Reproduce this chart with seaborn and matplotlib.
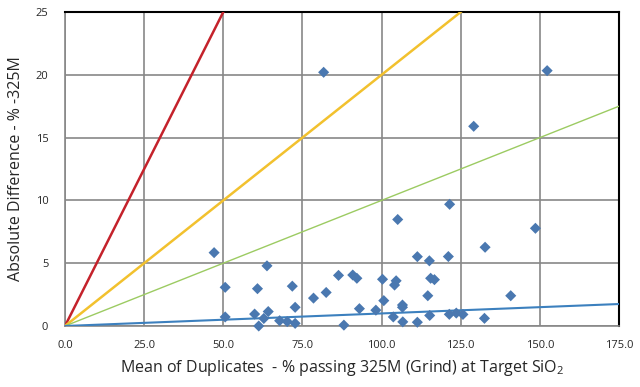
import matplotlib
matplotlib.use("Agg")
import matplotlib.pyplot as plt
import seaborn as sns
import pandas as pd
import numpy as np

mean_dup = [47.1, 50.6, 50.6, 60.8, 63.8, 59.9, 61.2, 62.8, 64.2, 67.8,
            70.2, 72.7, 71.8, 72.7, 78.5, 82.5, 86.4, 88.1, 81.7, 90.9,
            92.2, 100.3, 104.6, 104.1, 115.5, 116.7, 114.6, 100.7, 93.0, 98.2,
            106.6, 106.6, 103.7, 106.7, 111.3, 115.2, 121.4, 123.6, 125.7, 132.5,
            105.1, 111.3, 115.1, 121.1, 121.5, 132.7, 148.6, 140.8, 129.1, 152.3]
abs_diff = [5.84, 3.08, 0.72, 2.97, 4.79, 0.95, 0.0, 0.6, 1.15, 0.42,
            0.35, 0.21, 3.17, 1.49, 2.22, 2.67, 4.03, 0.07, 20.2, 4.06,
            3.8, 3.72, 3.6, 3.26, 3.8, 3.69, 2.41, 2.02, 1.38, 1.26,
            1.67, 1.49, 0.72, 0.33, 0.3, 0.84, 0.93, 1.03, 0.92, 0.61,
            8.48, 5.52, 5.19, 5.53, 9.69, 6.27, 7.78, 2.41, 15.9, 20.33]

# reference lines: relative difference limits
ref_slopes = [0.5, 0.2, 0.1, 0.01]
ref_colors = ["#C4222B", "#F2C12E", "#9CCB62", "#3C80BE"]
ref_widths = [1.8, 1.8, 1.0, 1.5]
ref_x = [0, 175]

x_ticks = [0, 25, 50, 75, 100, 125, 150, 175]
y_ticks = [0, 5, 10, 15, 20, 25]

sns.set_theme(style="white")
plt.rcParams['font.family'] = ['Open Sans', 'DejaVu Sans']
plt.rcParams['mathtext.fontset'] = 'custom'
plt.rcParams['mathtext.rm'] = 'Open Sans'

fig = plt.figure(figsize=(6.4, 3.87), dpi=100)
ax = fig.add_axes([65/640, 1-326/387, (619-65)/640, (326-12)/387])

for s, c, w in zip(ref_slopes, ref_colors, ref_widths):
    d = pd.DataFrame({"x": ref_x, "y": [s * v for v in ref_x]})
    sns.lineplot(data=d, x="x", y="y", color=c, linewidth=w, ax=ax, zorder=3)

pts = pd.DataFrame({"x": mean_dup, "y": abs_diff})
sns.scatterplot(data=pts, x="x", y="y", marker="D", s=32, color="#4A78B0",
                edgecolor="none", ax=ax, zorder=4, clip_on=False)

ax.set_xlim(0, 175)
ax.set_ylim(0, 25)
ax.set_xticks(x_ticks)
ax.set_yticks(y_ticks)
ax.set_xticklabels([f"{v:.1f}" for v in x_ticks], fontsize=8)
ax.set_yticklabels([str(v) for v in y_ticks], fontsize=8)
ax.tick_params(axis="x", length=0, pad=10)
ax.tick_params(axis="y", length=0, pad=12)
ax.grid(True, color="#878787", linewidth=1.2)
ax.set_axisbelow(True)
for side in ["top", "right"]:
    ax.spines[side].set_color("black")
    ax.spines[side].set_linewidth(1.5)
for side in ["left", "bottom"]:
    ax.spines[side].set_color("#878787")
    ax.spines[side].set_linewidth(1.2)

ax.set_xlabel(r"Mean of Duplicates  - % passing 325M (Grind) at Target SiO$_\mathregular{2}$",
              fontsize=11.5, labelpad=5)
ax.set_ylabel("Absolute Difference - % -325M", fontsize=11.5, labelpad=8)

fig.savefig("out.png", dpi=100)
